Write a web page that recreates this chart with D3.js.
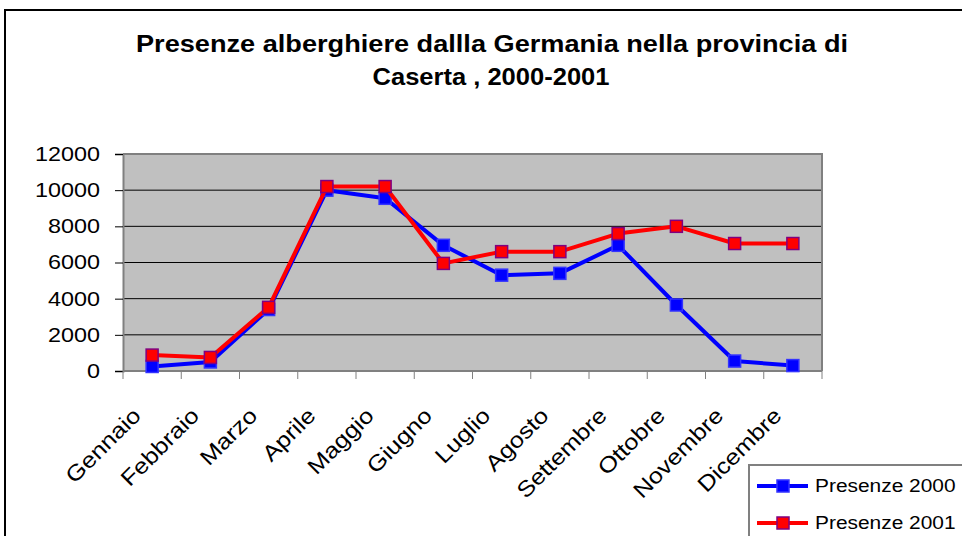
<!DOCTYPE html>
<html>
<head>
<meta charset="utf-8">
<script src="https://cdnjs.cloudflare.com/ajax/libs/d3/7.8.5/d3.min.js"></script>
<style>
  body { margin: 0; background: #fff; }
  text { font-family: "Liberation Sans", Arial, sans-serif; fill: #000; }
</style>
</head>
<body>
<svg id="chart"></svg>
<script>
// data
const months = ["Gennaio", "Febbraio", "Marzo", "Aprile", "Maggio", "Giugno",
                "Luglio", "Agosto", "Settembre", "Ottobre", "Novembre", "Dicembre"];
const presenze2000 = [250, 500, 3400, 10000, 9550, 6950, 5300, 5400, 6950, 3650, 550, 300];
const presenze2001 = [880, 750, 3520, 10200, 10200, 5950, 6600, 6600, 7600, 8000, 7050, 7050];
const yTicks = [0, 2000, 4000, 6000, 8000, 10000, 12000];
const seriesNames = ["Presenze 2000", "Presenze 2001"];
const titleLines = ["Presenze alberghiere dallla Germania nella provincia di", "Caserta , 2000-2001"];

const W = 962, H = 536;
const plot = {left: 123, right: 822, top: 154, bottom: 371};
const wide = 1.17;   // the original's text is drawn wider than normal

const svg = d3.select("#chart").attr("width", W).attr("height", H);

// outer frame
svg.append("rect")
    .attr("x", 5).attr("y", 10)
    .attr("width", W).attr("height", H)
    .attr("fill", "#fff").attr("stroke", "#000").attr("stroke-width", 2);

// title
svg.append("text")
    .attr("x", 492).attr("y", 52)
    .attr("text-anchor", "middle")
    .attr("textLength", 712).attr("lengthAdjust", "spacingAndGlyphs")
    .style("font-size", "23px").style("font-weight", "bold")
    .text(titleLines[0]);
svg.append("text")
    .attr("x", 491).attr("y", 85)
    .attr("text-anchor", "middle")
    .attr("textLength", 237).attr("lengthAdjust", "spacingAndGlyphs")
    .style("font-size", "23px").style("font-weight", "bold")
    .text(titleLines[1]);

const x = d3.scaleBand().domain(months).range([plot.left, plot.right]);
const y = d3.scaleLinear().domain([0, 12000]).range([plot.bottom, plot.top]);

// plot background
svg.append("rect")
    .attr("x", plot.left).attr("y", plot.top)
    .attr("width", plot.right - plot.left).attr("height", plot.bottom - plot.top)
    .attr("fill", "#c0c0c0");

// gridlines
svg.append("g")
    .selectAll("line")
    .data(yTicks.slice(1, -1))
    .join("line")
    .attr("x1", plot.left).attr("x2", plot.right)
    .attr("y1", d => y(d)).attr("y2", d => y(d))
    .attr("stroke", "#000").attr("stroke-width", 1);

// plot frame (top/right)
svg.append("path")
    .attr("d", `M${plot.left},${plot.top}H${plot.right}V${plot.bottom}`)
    .attr("fill", "none").attr("stroke", "#808080").attr("stroke-width", 2);

// y axis
const yAxisG = svg.append("g")
    .attr("transform", `translate(${plot.left},0)`)
    .call(d3.axisLeft(y).tickValues(yTicks).tickSize(8).tickFormat(d3.format("d")));
yAxisG.select(".domain").attr("stroke", "#808080").attr("stroke-width", 2);
yAxisG.selectAll(".tick line").attr("stroke", "#000");
yAxisG.selectAll(".tick text")
    .attr("x", -23 / wide)
    .attr("transform", `scale(${wide},1)`)
    .style("font-size", "20px").style("font-family", "Liberation Sans, Arial, sans-serif");

// x axis: ticks at category boundaries
const xAxisG = svg.append("g")
    .attr("transform", `translate(0,${plot.bottom})`);
xAxisG.append("line")
    .attr("x1", plot.left).attr("x2", plot.right)
    .attr("stroke", "#808080").attr("stroke-width", 2);
xAxisG.selectAll(".xtick")
    .data(months.concat(["_end"]))
    .join("line")
    .attr("class", "xtick")
    .attr("x1", (d, i) => plot.left + i * x.step())
    .attr("x2", (d, i) => plot.left + i * x.step())
    .attr("y1", 0).attr("y2", 8)
    .attr("stroke", "#808080").attr("stroke-width", 1);
xAxisG.selectAll(".xlabel")
    .data(months)
    .join("text")
    .attr("class", "xlabel")
    .attr("text-anchor", "end")
    .style("font-size", "22px")
    .attr("transform", d => `translate(${x(d) + x.bandwidth() / 2 - 10},${46}) rotate(-45) scale(1.15,1)`)
    .text(d => d);

// lines and markers
const series = [
    {name: seriesNames[0], values: presenze2000, color: "#0000ff", edge: "#3333ff"},
    {name: seriesNames[1], values: presenze2001, color: "#ff0000", edge: "#800080"}
];
const line = d3.line()
    .x((d, i) => x(months[i]) + x.bandwidth() / 2)
    .y(d => y(d));
const ms = 12;

series.forEach(s => {
    svg.append("path")
        .datum(s.values)
        .attr("d", line)
        .attr("fill", "none")
        .attr("stroke", s.color)
        .attr("stroke-width", 4)
        .attr("stroke-linejoin", "round");
    svg.append("g")
        .selectAll("rect")
        .data(s.values)
        .join("rect")
        .attr("x", (d, i) => x(months[i]) + x.bandwidth() / 2 - ms / 2)
        .attr("y", d => y(d) - ms / 2)
        .attr("width", ms).attr("height", ms)
        .attr("fill", s.color)
        .attr("stroke", s.edge).attr("stroke-width", 1.5);
});

// legend
const legend = svg.append("g");
legend.append("rect")
    .attr("x", 749).attr("y", 465)
    .attr("width", 250).attr("height", 100)
    .attr("fill", "#fff").attr("stroke", "#808080").attr("stroke-width", 2);
const legItems = legend.selectAll(".leg")
    .data(series)
    .join("g")
    .attr("class", "leg")
    .attr("transform", (d, i) => `translate(0,${486 + i * 37})`);
legItems.append("line")
    .attr("x1", 757).attr("x2", 808)
    .attr("stroke", d => d.color).attr("stroke-width", 4);
legItems.append("rect")
    .attr("x", 783 - ms / 2).attr("y", -ms / 2)
    .attr("width", ms).attr("height", ms)
    .attr("fill", d => d.color)
    .attr("stroke", d => d.edge).attr("stroke-width", 1.5);
legItems.append("text")
    .attr("x", 815 / 1.1).attr("y", 6)
    .attr("transform", "scale(1.1,1)")
    .style("font-size", "19px")
    .text(d => d.name);
</script>
</body>
</html>
